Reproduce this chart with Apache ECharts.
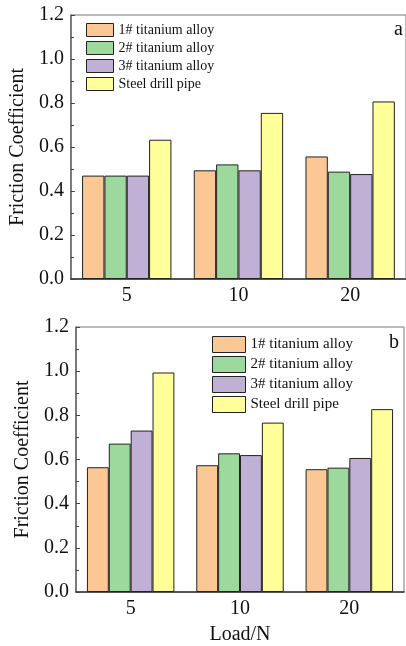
<!DOCTYPE html>
<html><head><meta charset="utf-8">
<script src="https://cdn.jsdelivr.net/npm/echarts@6/dist/echarts.min.js"></script>
<style>html,body{margin:0;padding:0;background:#fff}#c{width:406px;height:646px}</style>
</head><body><div id="c"></div>
<script>
const loads = ['5', '10', '20'];
const seriesNames = ['1# titanium alloy', '2# titanium alloy', '3# titanium alloy', 'Steel drill pipe'];
const colors = ['#FBC895', '#9DD89C', '#C1B0D6', '#FFFF99'];
// panel a
const a_ti1 = [0.47, 0.494, 0.557];
const a_ti2 = [0.47, 0.521, 0.488];
const a_ti3 = [0.47, 0.494, 0.477];
const a_steel = [0.633, 0.755, 0.807];
// panel b
const b_ti1 = [0.565, 0.574, 0.556];
const b_ti2 = [0.672, 0.628, 0.563];
const b_ti3 = [0.731, 0.620, 0.607];
const b_steel = [0.994, 0.767, 0.828];
const yTicks = [0, 0.2, 0.4, 0.6, 0.8, 1.0, 1.2];

const font = 'Liberation Serif';
const chart = echarts.init(document.getElementById('c'), null, {renderer: 'canvas'});

function yAx(gi, gap) {
  return {
    gridIndex: gi, type: 'value', min: yTicks[0], max: yTicks[yTicks.length - 1], interval: 0.2,
    name: 'Friction Coefficient', nameLocation: 'middle', nameGap: gap,
    nameTextStyle: {fontFamily: font, fontSize: 20, color: '#111'},
    axisLine: {show: true, lineStyle: {color: '#666', width: 1.5}},
    axisTick: {show: true, inside: true, length: 4, lineStyle: {color: '#444'}},
    minorTick: {show: true, splitNumber: 2, length: 3, lineStyle: {color: '#444'}},
    splitLine: {show: false},
    axisLabel: {fontFamily: font, fontSize: 20, color: '#111', margin: 7,
      formatter: v => v.toFixed(1)}
  };
}
function xAx(gi, withName) {
  const o = {
    gridIndex: gi, type: 'category', data: loads,
    axisLine: {show: true, lineStyle: {color: '#333', width: 1.5}},
    axisTick: {show: false},
    axisLabel: {fontFamily: font, fontSize: 20, color: '#111', margin: 7}
  };
  if (withName) {
    o.name = 'Load/N'; o.nameLocation = 'middle'; o.nameGap = 33;
    o.nameTextStyle = {fontFamily: font, fontSize: 20, color: '#111'};
  }
  return o;
}
const aData = [a_ti1, a_ti2, a_ti3, a_steel];
const bData = [b_ti1, b_ti2, b_ti3, b_steel];
const series = [];
[aData, bData].forEach((set, gi) => {
  set.forEach((d, i) => {
    series.push({
      type: 'bar', name: seriesNames[i], xAxisIndex: gi, yAxisIndex: gi, data: d,
      barGap: '0%', barCategoryGap: '20%',
      itemStyle: {color: colors[i], borderColor: '#222', borderWidth: 1}
    });
  });
});

chart.setOption({
  animation: false,
  grid: [
    {left: 70, top: 15, right: 0, height: 264, show: true, borderColor: '#777', borderWidth: 1},
    {left: 76, top: 327, right: 2, height: 265, show: true, borderColor: '#777', borderWidth: 1}
  ],
  xAxis: [xAx(0, false), xAx(1, true)],
  yAxis: [yAx(0, 41), yAx(1, 39)],
  legend: [
    {orient: 'vertical', left: 86, top: 23, padding: 0, icon: 'rect',
     itemWidth: 27, itemHeight: 13, itemGap: 4,
     data: seriesNames, selectedMode: false,
     itemStyle: {borderColor: '#222', borderWidth: 1},
     textStyle: {fontFamily: font, fontSize: 14, color: '#111', lineHeight: 13}},
    {orient: 'vertical', left: 212, top: 336, padding: 0, icon: 'rect',
     itemWidth: 33, itemHeight: 16, itemGap: 3,
     data: seriesNames, selectedMode: false,
     itemStyle: {borderColor: '#222', borderWidth: 1},
     textStyle: {fontFamily: font, fontSize: 15, color: '#111', lineHeight: 16}}
  ],
  graphic: [
    {type: 'text', left: 394, top: 20, style: {text: 'a', font: '20px "Liberation Serif"', fill: '#111'}},
    {type: 'text', left: 389, top: 333, style: {text: 'b', font: '20px "Liberation Serif"', fill: '#111'}}
  ],
  series: series
});
</script></body></html>
